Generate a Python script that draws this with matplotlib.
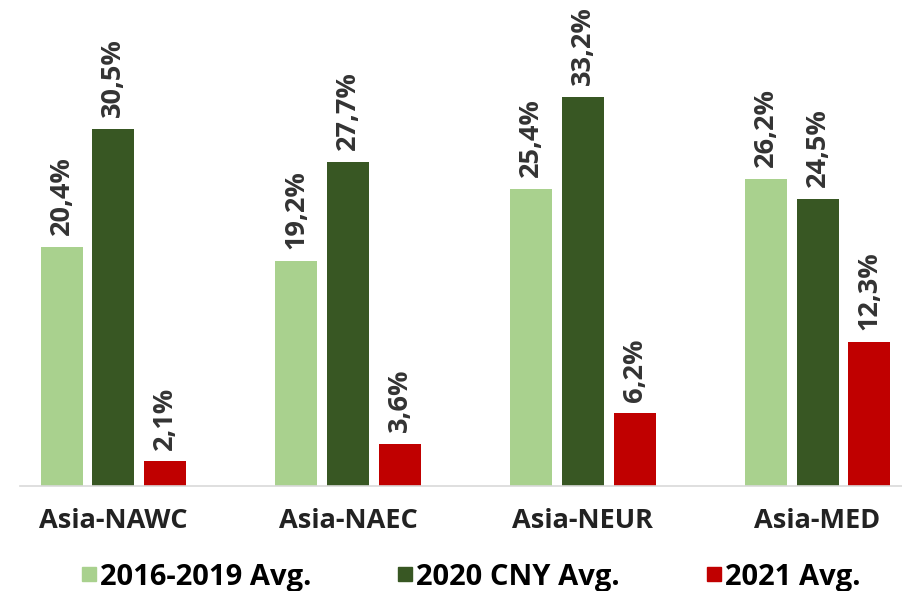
import matplotlib.pyplot as plt
import numpy as np

routes = ['Asia-NAWC', 'Asia-NAEC', 'Asia-NEUR', 'Asia-MED']
series = ['2016-2019 Avg.', '2020 CNY Avg.', '2021 Avg.']
avg_2016_2019 = [20.4, 19.2, 25.4, 26.2]
cny_2020 = [30.5, 27.7, 33.2, 24.5]
avg_2021 = [2.1, 3.6, 6.2, 12.3]

colors = ['#a9d18e', '#385723', '#c00000']
values = [avg_2016_2019, cny_2020, avg_2021]

plt.rcParams['font.family'] = ['Open Sans', 'DejaVu Sans']

fig = plt.figure(figsize=(9.02, 5.91), dpi=100)
ax = fig.add_axes([20 / 902, 105 / 591, 1 - 20 / 902, 486 / 591])

x = np.arange(len(routes))
width = 0.179
step = 0.221
for i, (vals, col) in enumerate(zip(values, colors)):
    pos = x + (i - 1) * step
    bars = ax.bar(pos, vals, width, color=col, label=series[i])
    for b, v in zip(bars, vals):
        ax.text(b.get_x() + b.get_width() / 2, v + 1.0,
                f'{v:.1f}%'.replace('.', ','), rotation=90,
                ha='center', va='bottom', fontsize=19.5, fontweight='bold',
                color='#333333')

ax.set_xlim(-0.398, 3.36)
ax.set_ylim(0, 41.5)
ax.set_yticks([])
ax.set_xticks(x)
ax.set_xticklabels(routes, fontsize=19.5, fontweight='bold', color='#222222')
ax.tick_params(axis='x', length=0, pad=16)
for s in ['top', 'right', 'left']:
    ax.spines[s].set_visible(False)
ax.spines['bottom'].set_color('#d9d9d9')
ax.spines['bottom'].set_linewidth(1.2)

handles = [plt.Line2D([], [], marker='s', linestyle='', markersize=10.5,
                      color=c) for c in colors]
fig.legend(handles, series, loc='center', bbox_to_anchor=(470 / 902, 14 / 591),
           ncol=3, frameon=False, handletextpad=0.05, columnspacing=2.9,
           prop={'size': 21, 'weight': 'bold'}, handlelength=0.65)

fig.savefig('out.png', dpi=100)
